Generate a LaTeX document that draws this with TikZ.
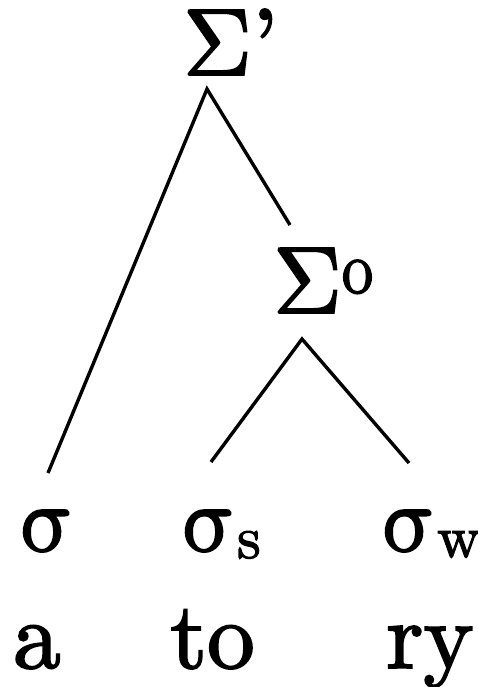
\documentclass[tikz,border=0pt]{standalone}
\usepackage{fontspec}
\newfontfamily\treefont{lmroman10-regular}[Extension=.otf,FakeBold=2]
\newfontfamily\greekfont{latinmodern-math}[Extension=.otf,FakeBold=2]
\usepackage{graphicx}
\begin{document}
\begin{tikzpicture}[x=1pt,y=-1pt]

    \tikzset{
      sym/.style={
        inner sep=0pt,
        anchor=base west,
        font=\treefont\fontsize{95}{95}\selectfont,
      },
      branch/.style={
        line width=3.4pt,
      },
    }

	\useasboundingbox (0,0) rectangle (477,687);
	\node[sym] (foot) at (183,75) {{\greekfont Σ}’};
	\node[sym] (head) at (273,313) {{\greekfont Σ}\raisebox{20pt}{\fontsize{74}{74}\selectfont\scalebox{0.85}[1]{o}}};
	\node[sym] (syla) at (18,551) {\greekfont σ};
	\node[sym] (sylb) at (180,551) {{\greekfont σ}\raisebox{-7pt}{\fontsize{60}{60}\selectfont s}};
	\node[sym] (sylc) at (380,551) {{\greekfont σ}\raisebox{-6pt}{\fontsize{60}{60}\selectfont w}};
	\node[sym] (wa) at (13,668) {a};
	\node[sym] (wb) at (170,668) {to};
	\node[sym] (wc) at (386,668) {ry};
	\coordinate (footroot) at (207,89);
	\coordinate (headtop) at (290,225);
	\coordinate (headroot) at (302,339);
	\coordinate (syla-top) at (48,473);
	\coordinate (sylb-top) at (211,462);
	\coordinate (sylc-top) at (409,463);
	\draw[branch] (syla-top)--(footroot)--(headtop);
	\draw[branch] (sylb-top)--(headroot)--(sylc-top);

\end{tikzpicture}
\end{document}
